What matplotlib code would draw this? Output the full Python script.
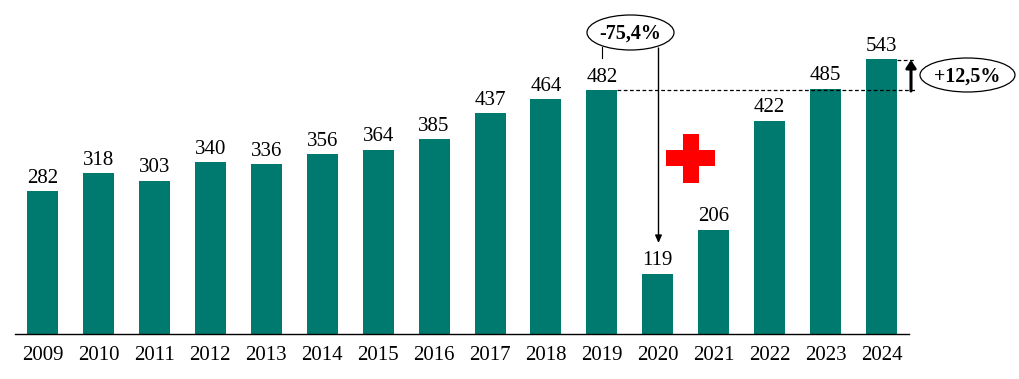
import matplotlib
matplotlib.use('Agg')
import matplotlib.pyplot as plt
from matplotlib.patches import Ellipse, Rectangle

years = ['2009', '2010', '2011', '2012', '2013', '2014', '2015', '2016',
         '2017', '2018', '2019', '2020', '2021', '2022', '2023', '2024']
values = [282, 318, 303, 340, 336, 356, 364, 385,
          437, 464, 482, 119, 206, 422, 485, 543]

C_BAR = '#007A6E'
W, H = 1019, 379

plt.rcParams['font.family'] = ['Liberation Serif', 'DejaVu Serif']

fig = plt.figure(figsize=(W / 100, H / 100), dpi=100, facecolor='white')

# bars: axes box runs from x=15..909 and y=0..334 in picture pixels
ax = fig.add_axes([15 / W, 1 - 334 / H, (909 - 15) / W, 334 / H])
xs = list(range(len(years)))
ax.bar(xs, values, width=0.554, color=C_BAR)
ax.set_xlim(-0.492, 15.49)
ax.set_ylim(0, 660.5)
ax.set_xticks(xs, years, fontsize=15)
ax.tick_params(axis='x', length=0, pad=8.5, colors='black')
ax.set_yticks([])
for name in ['top', 'left', 'right']:
    ax.spines[name].set_visible(False)
ax.spines['bottom'].set_linewidth(1.0)
for x, v in zip(xs, values):
    ax.annotate(str(v), (x, v), xytext=(0, 2.5), textcoords='offset points',
                ha='center', va='bottom', fontsize=15)

# callouts, in picture pixels
ov = fig.add_axes([0, 0, 1, 1])
ov.set_xlim(0, W)
ov.set_ylim(H, 0)
ov.axis('off')
ov.patch.set_alpha(0)

ov.plot([617, 915], [90.3, 90.3], color='black', lw=0.9, ls=(0, (3, 2)))
ov.plot([897, 915], [60.3, 60.3], color='black', lw=0.9, ls=(0, (3, 2)))
ov.plot([602, 602], [47, 58], color='black', lw=0.8)

ov.annotate('', xy=(658.5, 243), xytext=(658.5, 48),
            arrowprops=dict(arrowstyle='-|>,head_length=0.45,head_width=0.2',
                            color='black', lw=1.0, shrinkA=0, shrinkB=0))
ov.annotate('', xy=(911, 60), xytext=(911, 91),
            arrowprops=dict(arrowstyle='-|>,head_length=0.45,head_width=0.3',
                            color='black', lw=2.2, shrinkA=0, shrinkB=0))

ov.add_patch(Ellipse((630.5, 32.5), 87, 35, fc='white', ec='black', lw=0.9, zorder=3))
ov.text(630, 33.5, '-75,4%', ha='center', va='center', fontsize=14.4,
        fontweight='bold', zorder=4)
ov.add_patch(Ellipse((967.5, 75), 95, 34, fc='white', ec='black', lw=0.9, zorder=3))
ov.text(967.5, 76.5, '+12,5%', ha='center', va='center', fontsize=14.4,
        fontweight='bold', zorder=4)

# red cross
ov.add_patch(Rectangle((666.5, 150), 49, 16, fc='#FF0000', ec='none'))
ov.add_patch(Rectangle((683, 133.5), 16, 49, fc='#FF0000', ec='none'))

fig.savefig('out.png', dpi=100, facecolor='white')
